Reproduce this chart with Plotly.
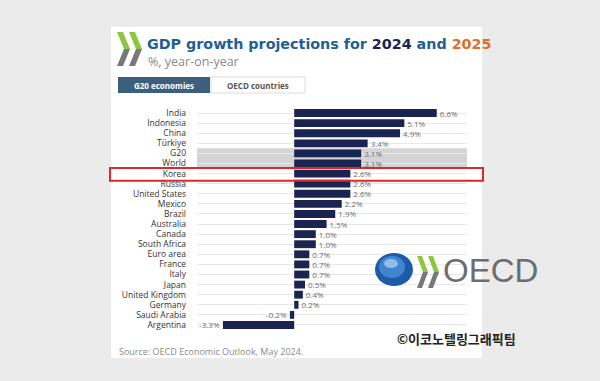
import plotly.graph_objects as go

categories = ["India", "Indonesia", "China", "Türkiye", "G20", "World", "Korea",
              "Russia", "United States", "Mexico", "Brazil", "Australia", "Canada",
              "South Africa", "Euro area", "France", "Italy", "Japan",
              "United Kingdom", "Germany", "Saudi Arabia", "Argentina"]
values = [6.6, 5.1, 4.9, 3.4, 3.1, 3.1, 2.6, 2.6, 2.6, 2.2, 1.9, 1.5, 1.0, 1.0,
          0.7, 0.7, 0.7, 0.5, 0.4, 0.2, -0.2, -3.3]
value_labels = [f"{v:.1f}%" for v in values]

W, H = 600, 381


def px(x):
    return x / W


def py(y):
    return 1 - y / H


def poly(points):
    return "M " + " L ".join(f"{px(x):.5f},{py(y):.5f}" for x, y in points) + " Z"


def chevrons(x0, y0, h, w, d, gap):
    out = []
    for k in range(2):
        xs = x0 + k * gap
        ym = y0 + h / 2
        out.append(dict(type="path", xref="paper", yref="paper", layer="above",
                        path=poly([(xs, y0), (xs + w, y0), (xs + w + d, ym), (xs + d, ym)]),
                        fillcolor="#8dc63f", line=dict(width=0)))
        out.append(dict(type="path", xref="paper", yref="paper", layer="above",
                        path=poly([(xs + d, ym), (xs + w + d, ym), (xs + w, y0 + h), (xs, y0 + h)]),
                        fillcolor="#77787b", line=dict(width=0)))
    return out


fig = go.Figure()
fig.add_trace(go.Bar(
    x=values, y=categories, orientation="h",
    marker=dict(color="#1b2351", line=dict(width=0)),
    width=0.78,
    text=value_labels, textposition="outside", constraintext="none",
    textfont=dict(family="Open Sans", size=8, color="#6b6b6b"),
    cliponaxis=False, hoverinfo="skip",
))

shapes = []
# white card
shapes.append(dict(type="rect", xref="paper", yref="paper", layer="below",
                   x0=px(111), x1=px(482), y0=py(358), y1=py(27),
                   fillcolor="white", line=dict(width=0)))
# grey band for G20 / World
shapes.append(dict(type="rect", xref="x", yref="y", layer="below",
                   x0=-4.5, x1=8, y0=3.5, y1=5.5,
                   fillcolor="#d4d4d4", line=dict(width=0)))
# red box round Korea
shapes.append(dict(type="rect", xref="paper", yref="y", layer="above",
                   x0=px(110), x1=px(483), y0=5.45, y1=6.72,
                   fillcolor="rgba(0,0,0,0)", line=dict(color="#e0262b", width=2)))
# tabs
shapes.append(dict(type="rect", xref="paper", yref="paper", layer="above",
                   x0=px(118), x1=px(210), y0=py(93), y1=py(77),
                   fillcolor="#3c5f80", line=dict(width=0)))
shapes.append(dict(type="rect", xref="paper", yref="paper", layer="above",
                   x0=px(211), x1=px(305), y0=py(93), y1=py(77),
                   fillcolor="white", line=dict(color="#dcdcdc", width=1)))
# header chevrons
shapes += chevrons(117, 32, 34, 6, 7, 12)
# OECD globe
shapes.append(dict(type="circle", xref="paper", yref="paper", layer="above",
                   x0=px(375), x1=px(413), y0=py(286), y1=py(253),
                   fillcolor="#1d5aa8", line=dict(width=0)))
shapes.append(dict(type="circle", xref="paper", yref="paper", layer="above",
                   x0=px(379), x1=px(405), y0=py(278), y1=py(256),
                   fillcolor="#3f86cf", line=dict(width=0)))
shapes.append(dict(type="circle", xref="paper", yref="paper", layer="above",
                   x0=px(384), x1=px(398), y0=py(268), y1=py(259),
                   fillcolor="#8fbde8", line=dict(width=0)))
shapes += chevrons(417, 256, 32, 5, 6, 11)

annotations = [
    dict(text=("<b><span style='color:#1f5f96'>GDP growth projections for </span>"
               "<span style='color:#1b2351'>2024</span>"
               "<span style='color:#1f5f96'> and </span>"
               "<span style='color:#e0701f'>2025</span></b>"),
         x=px(145), y=py(44), xanchor="left", yanchor="middle",
         font=dict(family="DejaVu Sans", size=14.3)),
    dict(text="%, year-on-year", x=px(146), y=py(62), xanchor="left", yanchor="middle",
         font=dict(family="Open Sans", size=12.5, color="#8a8a8a")),
    dict(text="<b>G20 economies</b>", x=px(164), y=py(85), xanchor="center", yanchor="middle",
         font=dict(family="Open Sans", size=8, color="white")),
    dict(text="<b>OECD countries</b>", x=px(258), y=py(85), xanchor="center", yanchor="middle",
         font=dict(family="Open Sans", size=8, color="#555555")),
    dict(text="OECD", x=px(490), y=py(270), xanchor="center", yanchor="middle",
         font=dict(family="Liberation Sans", size=33, color="#6d6e71")),
    dict(text="<b>©이코노텔링그래픽팀</b>", x=px(395), y=py(338), xanchor="left", yanchor="middle",
         font=dict(family="Noto Sans CJK KR", size=13, color="#222222")),
    dict(text="Source: OECD Economic Outlook, May 2024.", x=px(117), y=py(351),
         xanchor="left", yanchor="middle",
         font=dict(family="Open Sans", size=9, color="#8a8a8a")),
]
for a in annotations:
    a.update(xref="paper", yref="paper", showarrow=False)

fig.update_layout(
    width=W, height=H, margin=dict(l=0, r=0, t=0, b=0, pad=0),
    paper_bgcolor="#ebebeb", plot_bgcolor="rgba(0,0,0,0)",
    showlegend=False, bargap=0.2,
    shapes=shapes, annotations=annotations,
    xaxis=dict(domain=[px(197), px(467)], range=[-4.5, 8], visible=False,
               showgrid=False, zeroline=False, fixedrange=True, automargin=False),
    yaxis=dict(domain=[py(330), py(108)], range=[21.5, -0.5], type="category",
               categoryorder="array", categoryarray=categories,
               tickmode="array", tickvals=categories, ticktext=categories,
               showgrid=True, gridcolor="#e8e8e8", gridwidth=1,
               ticks="", ticklabelstandoff=10, showline=False, zeroline=False,
               tickfont=dict(family="Open Sans", size=8.5, color="#333333"),
               automargin=False, fixedrange=True),
    font=dict(family="Open Sans"),
)

fig.write_html("out.html", config={"displayModeBar": False},
               post_script="document.body.style.margin='0';")
